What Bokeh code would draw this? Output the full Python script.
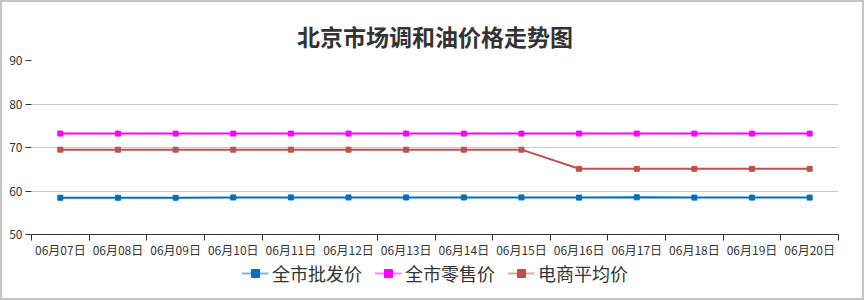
from bokeh.plotting import figure
from bokeh.models import Range1d, FixedTicker, Legend
from bokeh.layouts import column
from bokeh.embed import file_html
from bokeh.resources import INLINE

dates = ["06月07日", "06月08日", "06月09日", "06月10日", "06月11日", "06月12日", "06月13日",
         "06月14日", "06月15日", "06月16日", "06月17日", "06月18日", "06月19日", "06月20日"]
wholesale = [58.45, 58.45, 58.45, 58.52, 58.52, 58.52, 58.52, 58.52, 58.52, 58.48, 58.55, 58.48, 58.48, 58.48]
retail = [73.2] * 14
ecommerce = [69.5, 69.5, 69.5, 69.5, 69.5, 69.5, 69.5, 69.5, 69.5, 65.1, 65.1, 65.1, 65.1, 65.1]
series = [("全市批发价", wholesale, "#0070C0"),
          ("全市零售价", retail, "#FF00FF"),
          ("电商平均价", ecommerce, "#C0504D")]
y_ticks = [50, 60, 70, 80, 90]

FONT = "Noto Sans CJK SC"
xs = [i + 0.5 for i in range(len(dates))]

p = figure(width=860, height=258, output_backend="svg", toolbar_location=None,
           x_range=Range1d(0, len(dates)), y_range=Range1d(50, 90),
           title="北京市场调和油价格走势图",
           min_border_left=29, min_border_right=24, min_border_top=58, min_border_bottom=25)
p.outline_line_color = None

p.title.align = "center"
p.title.text_font = FONT
p.title.text_font_size = "23px"
p.title.text_font_style = "bold"
p.title.text_color = "#333333"
p.title.standoff = 15

for name, vals, color in series:
    p.line(xs, vals, line_color=color, line_width=2)
    p.scatter(xs, vals, marker="square", size=5, fill_color=color, line_color=color)

xa = p.xaxis[0]
xa.ticker = FixedTicker(ticks=xs, minor_ticks=list(range(len(dates) + 1)))
xa.major_label_overrides = {x: d for x, d in zip(xs, dates)}
xa.major_tick_out = 0
xa.major_tick_in = 0
xa.minor_tick_out = 6
xa.minor_tick_in = 0
xa.minor_tick_line_color = "#333333"
xa.axis_line_color = "#333333"
xa.major_label_text_font = FONT
xa.major_label_text_font_size = "12px"
xa.major_label_text_color = "#333333"
xa.major_label_standoff = 0

ya = p.yaxis[0]
ya.ticker = FixedTicker(ticks=y_ticks)
ya.axis_line_color = None
ya.major_tick_out = 6
ya.major_tick_in = 0
ya.minor_tick_line_color = None
ya.major_tick_line_color = "#333333"
ya.major_label_text_font = FONT
ya.major_label_text_font_size = "12px"
ya.major_label_text_color = "#333333"
ya.major_label_standoff = 3

p.xgrid.grid_line_color = None
p.ygrid.grid_line_color = "#c8c8c8"
p.ygrid.ticker = FixedTicker(ticks=y_ticks)

# legend strip below the chart (series drawn out of view, only their legend entries show)
lg = figure(width=860, height=38, output_backend="svg", toolbar_location=None,
            x_range=Range1d(100, 101), y_range=Range1d(0, 1),
            min_border_left=0, min_border_right=0, min_border_top=0, min_border_bottom=12)
lg.axis.visible = False
lg.grid.visible = False
lg.outline_line_color = None
items = []
for name, vals, color in series:
    r1 = lg.line(xs, vals, line_color=color, line_width=2, line_alpha=0.5)
    r2 = lg.scatter(xs, vals, marker="square", size=8, fill_color=color, line_color=color)
    items.append((name, [r1, r2]))
legend = Legend(items=items, orientation="horizontal", location="center",
                label_text_font=FONT, label_text_font_size="18px", label_text_color="#333333",
                border_line_color=None, background_fill_alpha=0,
                glyph_width=27, label_standoff=4, spacing=12, padding=0, margin=0)
lg.add_layout(legend, "center")

layout = column(p, lg, spacing=0)
layout.styles = {"border": "2px solid #c4c4c4"}

open("out.html", "w").write(file_html(layout, INLINE))
